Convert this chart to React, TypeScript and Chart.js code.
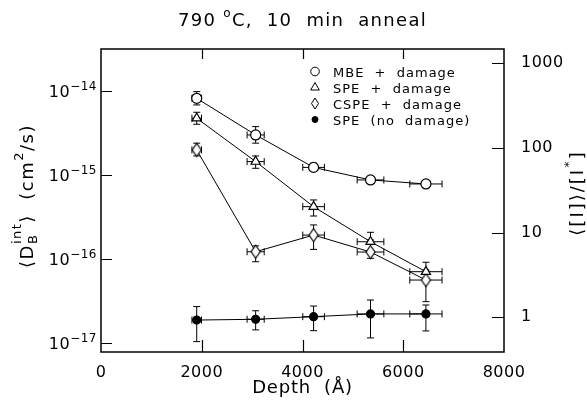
import React, { useEffect, useRef } from 'react';
import { Chart, registerables } from 'chart.js';

Chart.register(...registerables);

const FONT = '"DejaVu Sans", sans-serif';

// ---- data ----
const depth = [1900, 3070, 4220, 5350, 6450];
const depthErr = [95, 170, 215, 265, 320];

const mbe = [8.1e-15, 2.97e-15, 1.22e-15, 8.65e-16, 7.75e-16];
const mbeLo = [6.76e-15, 2.37e-15, 1.1e-15, 7.85e-16, 7.05e-16];
const mbeHi = [9.73e-15, 3.73e-15, 1.37e-15, 9.53e-16, 8.5e-16];

const speDmg = [4.69e-15, 1.43e-15, 4.16e-16, 1.59e-16, 7.0e-17];
const speDmgLo = [3.98e-15, 1.19e-15, 3.22e-16, 1.2e-16, 5.43e-17];
const speDmgHi = [5.53e-15, 1.67e-15, 5.0e-16, 2.06e-16, 9.06e-17];

const cspe = [1.97e-15, 1.21e-16, 1.91e-16, 1.2e-16, 5.57e-17];
const cspeLo = [1.67e-15, 9.2e-17, 1.29e-16, 1.01e-16, 3.08e-17];
const cspeHi = [2.37e-15, 1.42e-16, 2.52e-16, 1.67e-16, 7.33e-17];

const speNo = [1.86e-17, 1.9e-17, 2.04e-17, 2.2e-17, 2.2e-17];
const speNoLo = [1.03e-17, 1.42e-17, 1.39e-17, 1.14e-17, 1.38e-17];
const speNoHi = [2.69e-17, 2.4e-17, 2.73e-17, 3.22e-17, 2.81e-17];

const seriesNames = ['MBE  +  damage', 'SPE  +  damage', 'CSPE  +  damage', 'SPE  (no  damage)'];

const xTicks = [0, 2000, 4000, 6000, 8000];
const leftTicks = [1e-17, 1e-16, 1e-15, 1e-14];
const leftTickExp = ['−17', '−16', '−15', '−14'];
const rightTicks = [1, 10, 100, 1000];

type Part = { t: string; size: number; dy: number; stack?: boolean };

function drawRich(ctx: CanvasRenderingContext2D, parts: Part[], cx: number, cy: number, rotate: boolean, spacing: number, align: 'center' | 'right' | 'left' = 'center') {
  ctx.save();
  ctx.translate(cx, cy);
  if (rotate) ctx.rotate(-Math.PI / 2);
  (ctx as any).letterSpacing = spacing + 'px';
  ctx.textBaseline = 'alphabetic';
  ctx.textAlign = 'left';
  ctx.fillStyle = '#000';
  const widths = parts.map((p) => {
    ctx.font = `${p.size}px ${FONT}`;
    return ctx.measureText(p.t).width;
  });
  const pos: number[] = [];
  let x = 0;
  parts.forEach((p, k) => {
    if (p.stack && k > 0) {
      pos.push(pos[k - 1]);
      x = pos[k - 1] + Math.max(widths[k], widths[k - 1]);
    } else {
      pos.push(x);
      x += widths[k];
    }
  });
  const x0 = align === 'center' ? -x / 2 : align === 'right' ? -x : 0;
  parts.forEach((p, k) => {
    ctx.font = `${p.size}px ${FONT}`;
    ctx.fillText(p.t, x0 + pos[k], p.dy);
  });
  ctx.restore();
}

function drawMarker(ctx: CanvasRenderingContext2D, kind: number, x: number, y: number) {
  ctx.save();
  ctx.lineWidth = 1;
  ctx.strokeStyle = '#000';
  ctx.fillStyle = '#fff';
  ctx.beginPath();
  if (kind === 0) {
    ctx.arc(x, y, 4.3, 0, Math.PI * 2);
  } else if (kind === 1) {
    const r = 5;
    ctx.moveTo(x, y - r);
    ctx.lineTo(x + r * 0.866, y + r * 0.5);
    ctx.lineTo(x - r * 0.866, y + r * 0.5);
    ctx.closePath();
  } else if (kind === 2) {
    ctx.moveTo(x, y - 5.5);
    ctx.lineTo(x + 3.5, y);
    ctx.lineTo(x, y + 5.5);
    ctx.lineTo(x - 3.5, y);
    ctx.closePath();
  } else {
    ctx.arc(x, y, 3, 0, Math.PI * 2);
    ctx.fillStyle = '#000';
  }
  ctx.fill();
  ctx.stroke();
  ctx.restore();
}

function makeDiamond(hw: number, hh: number) {
  const c = document.createElement('canvas');
  c.width = Math.ceil(hw * 2 + 4);
  c.height = Math.ceil(hh * 2 + 4);
  const g = c.getContext('2d')!;
  const cx = c.width / 2;
  const cy = c.height / 2;
  g.beginPath();
  g.moveTo(cx, cy - hh);
  g.lineTo(cx + hw, cy);
  g.lineTo(cx, cy + hh);
  g.lineTo(cx - hw, cy);
  g.closePath();
  g.fillStyle = '#fff';
  g.fill();
  g.lineWidth = 1.2;
  g.strokeStyle = '#000';
  g.stroke();
  return c;
}

const decorPlugin = {
  id: 'decor',
  beforeDraw(chart: any) {
    chart.ctx.letterSpacing = '0.5px';
  },
  beforeDatasetsDraw(chart: any) {
    const ctx: CanvasRenderingContext2D = chart.ctx;
    const xs = chart.scales.x;
    const ys = chart.scales.y;
    ctx.save();
    ctx.strokeStyle = '#000';
    ctx.lineWidth = 1;
    chart.data.datasets.forEach((ds: any) => {
      const vals: number[] = ds.vals;
      vals.forEach((v, i) => {
        const px = xs.getPixelForValue(depth[i]);
        const py = ys.getPixelForValue(v);
        const yl = ys.getPixelForValue(ds.lo[i]);
        const yh = ys.getPixelForValue(ds.hi[i]);
        const xl = xs.getPixelForValue(depth[i] - depthErr[i]);
        const xh = xs.getPixelForValue(depth[i] + depthErr[i]);
        ctx.beginPath();
        ctx.moveTo(px, yh);
        ctx.lineTo(px, yl);
        ctx.moveTo(px - 3.5, yh);
        ctx.lineTo(px + 3.5, yh);
        ctx.moveTo(px - 3.5, yl);
        ctx.lineTo(px + 3.5, yl);
        ctx.moveTo(xl, py);
        ctx.lineTo(xh, py);
        ctx.moveTo(xl, py - 3.5);
        ctx.lineTo(xl, py + 3.5);
        ctx.moveTo(xh, py - 3.5);
        ctx.lineTo(xh, py + 3.5);
        ctx.stroke();
      });
    });
    ctx.restore();
  },
  afterDraw(chart: any) {
    const ctx: CanvasRenderingContext2D = chart.ctx;
    const a = chart.chartArea;
    const xs = chart.scales.x;
    const ys = chart.scales.y;
    const y2 = chart.scales.y2;
    ctx.save();
    (ctx as any).letterSpacing = '0px';
    ctx.strokeStyle = '#000';
    ctx.lineWidth = 1.5;
    ctx.strokeRect(a.left, a.top, a.right - a.left, a.bottom - a.top);
    ctx.lineWidth = 1.2;
    ctx.beginPath();
    leftTicks.forEach((v) => {
      const py = Math.round(ys.getPixelForValue(v)) + 0.5;
      ctx.moveTo(a.left, py);
      ctx.lineTo(a.left + 11, py);
    });
    rightTicks.forEach((v) => {
      const py = Math.round(y2.getPixelForValue(v)) + 0.5;
      ctx.moveTo(a.right, py);
      ctx.lineTo(a.right - 12, py);
    });
    xTicks.slice(1, -1).forEach((v) => {
      const px = Math.round(xs.getPixelForValue(v)) + 0.5;
      ctx.moveTo(px, a.bottom);
      ctx.lineTo(px, a.bottom - 12);
      ctx.moveTo(px, a.top);
      ctx.lineTo(px, a.top + 10);
    });
    ctx.stroke();
    ctx.restore();

    // left tick labels
    leftTicks.forEach((v, i) => {
      const py = ys.getPixelForValue(v);
      drawRich(ctx, [
        { t: '10', size: 16, dy: 6 },
        { t: leftTickExp[i], size: 12, dy: -1 },
      ], a.left - 4, py, false, 0.5, 'right');
    });

    // title
    drawRich(ctx, [
      { t: '790 ', size: 18, dy: 7 },
      { t: 'o', size: 12, dy: -2 },
      { t: 'C,  10  min  anneal', size: 18, dy: 7 },
    ], (a.left + a.right) / 2, 19, false, 1.3);

    // x title
    drawRich(ctx, [{ t: 'Depth  (Å)', size: 18, dy: 7 }], (a.left + a.right) / 2, 386, false, 0.8);

    // left y title
    drawRich(ctx, [
      { t: '⟨D', size: 18, dy: 7 },
      { t: 'B', size: 13, dy: 11 },
      { t: 'int', size: 13, dy: -5, stack: true },
      { t: '⟩  (cm', size: 18, dy: 7 },
      { t: '2', size: 13, dy: -3 },
      { t: '/s)', size: 18, dy: 7 },
    ], 26, 196, true, 1.5);

    // right y title
    drawRich(ctx, [
      { t: '⟨[I]⟩/[I', size: 18, dy: 7 },
      { t: '*', size: 13, dy: -3 },
      { t: ']', size: 18, dy: 7 },
    ], 576, 193, true, 2);

    // legend
    const rows = [71.5, 87.5, 103.5, 119.5];
    rows.forEach((ry, i) => {
      drawMarker(ctx, i, 315, ry);
      drawRich(ctx, [{ t: seriesNames[i], size: 13, dy: 5 }], 333, ry, false, 1, 'left');
    });
  },
};

export default function App() {
  const ref = useRef<HTMLCanvasElement | null>(null);
  useEffect(() => {
    if (!ref.current) return;
    const diamond = makeDiamond(4.5, 6.5);
    const mk = (vals: number[], lo: number[], hi: number[], style: any, radius: number, fill: string) => ({
      data: depth.map((d, i) => ({ x: d, y: vals[i] })),
      vals,
      lo,
      hi,
      borderColor: '#000',
      borderWidth: 1,
      pointStyle: style,
      pointRadius: radius,
      pointBackgroundColor: fill,
      pointBorderColor: '#000',
      pointBorderWidth: 1.2,
      showLine: true,
      tension: 0,
      fill: false,
    });
    const chart = new Chart(ref.current, {
      type: 'line',
      data: {
        datasets: [
          mk(mbe, mbeLo, mbeHi, 'circle', 5, '#fff'),
          mk(speDmg, speDmgLo, speDmgHi, 'triangle', 5.3, '#fff'),
          mk(cspe, cspeLo, cspeHi, diamond, 5, '#fff'),
          mk(speNo, speNoLo, speNoHi, 'circle', 4, '#000'),
        ] as any,
      },
      options: {
        animation: false,
        responsive: false,
        events: [],
        layout: { padding: { top: 49, left: 0, right: 0, bottom: 0 } },
        plugins: { legend: { display: false }, title: { display: false }, tooltip: { enabled: false } },
        scales: {
          x: {
            type: 'linear',
            min: 0,
            max: 8000,
            afterBuildTicks: (s: any) => { s.ticks = xTicks.map((v) => ({ value: v })); },
            afterFit: (s: any) => { s.height = 48; },
            grid: { display: false },
            border: { display: false },
            ticks: {
              callback: (v: any) => String(v),
              color: '#000',
              font: { family: FONT, size: 16 },
              padding: 3,
              maxRotation: 0,
            },
          },
          y: {
            type: 'logarithmic',
            position: 'left',
            min: 7.75e-18,
            max: 3.13e-14,
            afterBuildTicks: (s: any) => { s.ticks = leftTicks.map((v) => ({ value: v })); },
            afterFit: (s: any) => { s.width = 101; },
            grid: { display: false },
            border: { display: false },
            ticks: { display: false },
          },
          y2: {
            type: 'logarithmic',
            position: 'right',
            min: 0.389,
            max: 1476,
            afterBuildTicks: (s: any) => { s.ticks = rightTicks.map((v) => ({ value: v })); },
            afterFit: (s: any) => { s.width = 83; },
            grid: { display: false },
            border: { display: false },
            ticks: {
              callback: (v: any) => String(v),
              color: '#000',
              font: { family: FONT, size: 16 },
              padding: 9,
            },
          },
        },
      } as any,
      plugins: [decorPlugin],
    });
    return () => chart.destroy();
  }, []);
  return (
    <div style={{ position: 'fixed', left: 0, top: 0, width: 587, height: 400, background: '#fff' }}>
      <canvas ref={ref} width={587} height={400} style={{ display: 'block' }} />
    </div>
  );
}
